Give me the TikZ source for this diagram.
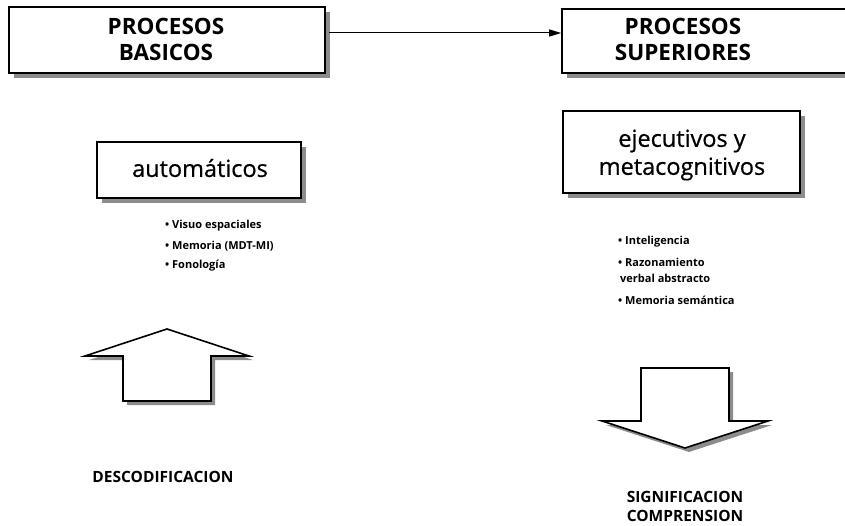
\documentclass[tikz,border=0pt]{standalone}
\usepackage{fontspec}
\setmainfont{Open Sans}
\usetikzlibrary{arrows.meta,shadows}
\begin{document}
\begin{tikzpicture}[x=1pt,y=-1pt,
  box/.style={draw=black,line width=1.6pt,fill=white,inner sep=0pt,
    drop shadow={shadow xshift=5pt,shadow yshift=-5pt,fill=black!45,opacity=1}},
  title/.style={font=\fontsize{22.5}{26}\selectfont\bfseries,align=center,inner sep=0pt},
  sub/.style={font=\fontsize{23.5}{28}\selectfont\addfontfeature{FakeBold=0.6},align=center,inner sep=0pt},
  item/.style={font=\fontsize{11}{12}\selectfont\bfseries,anchor=west,inner sep=0pt},
  lbl/.style={font=\fontsize{15.5}{19}\selectfont\bfseries,align=center,inner sep=0pt},
  blk/.style={draw=black,line width=1.6pt,fill=white,line join=miter},
  blkshadow/.style={fill=black!45,draw=none}]
\useasboundingbox (0,0) rectangle (845,526);
\begin{scope}
\clip (0,0) rectangle (845,526);
% top boxes
\node[box,minimum width=316pt,minimum height=66pt] (b1) at (167,40) {};
\node[title] (t1) at (166,39) {PROCESOS\\BASICOS};
\node[box,minimum width=300pt,minimum height=64pt] (b2) at (712,41) {};
\node[title] (t2) at (683,39) {PROCESOS\\SUPERIORES};
\coordinate (ay) at (0,33);
\draw[line width=1pt,-{Triangle[length=12pt,width=7pt]}] ([xshift=3pt]b1.east |- ay) -- (b2.west |- ay);
% sub boxes
\node[box,minimum width=204pt,minimum height=56pt] (b3) at (199,170) {};
\node[sub] (t3) at (200,168) {automáticos};
\node[box,minimum width=237pt,minimum height=82pt] (b4) at (681.5,152) {};
\node[sub] (t4) at (682,155) {ejecutivos y\\metacognitivos};
\end{scope}
% bullet lists
\node[item] (l1) at (165,226) {\textbullet\ Visuo espaciales};
\node[item] (l2) at (165,246) {\textbullet\ Memoria (MDT-MI)};
\node[item] (l3) at (165,266) {\textbullet\ Fonología};
\node[item] (r1) at (618,242) {\textbullet\ Inteligencia};
\node[item] (r2) at (618,262) {\textbullet\ Razonamiento};
\node[item] (r3) at (620,278) {verbal abstracto};
\node[item] (r4) at (618,300) {\textbullet\ Memoria semántica};
% up arrow
\fill[blkshadow] (89,360) -- (171,333) -- (253,360) -- (215,360) -- (215,405) -- (127,405) -- (127,360) -- cycle;
\draw[blk] (85,356) -- (167,329) -- (249,356) -- (211,356) -- (211,401) -- (123,401) -- (123,356) -- cycle;
% down arrow
\fill[blkshadow] (645,372) -- (733,372) -- (733,425) -- (772,425) -- (689,452) -- (606,425) -- (645,425) -- cycle;
\draw[blk] (641,368) -- (729,368) -- (729,421) -- (768,421) -- (685,448) -- (602,421) -- (641,421) -- cycle;
% labels
\node[lbl] (d) at (163,477) {DESCODIFICACION};
\node[lbl] (s) at (685,506) {SIGNIFICACION\\COMPRENSION};
\end{tikzpicture}
\end{document}
